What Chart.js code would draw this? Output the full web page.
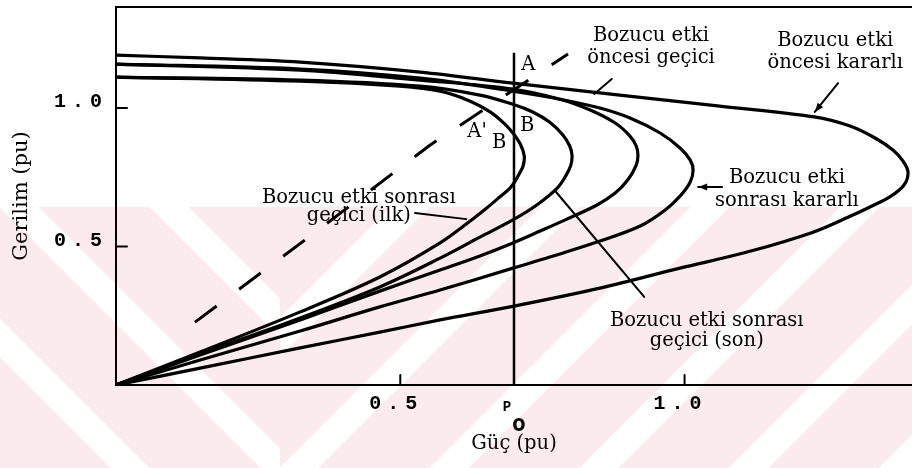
<!DOCTYPE html>
<html lang="tr">
<head>
<meta charset="utf-8">
<title>Gerilim – Güç eğrileri</title>
<script src="https://cdn.jsdelivr.net/npm/chart.js@4.4.1/dist/chart.umd.min.js"></script>
<style>
  html, body { margin: 0; padding: 0; background: #fff; overflow: hidden; }
  #wrap { position: relative; width: 912px; height: 468px; overflow: hidden; }
  .zemin { position: absolute; top: 207px; height: 261px; z-index: 0; }
  .zemin.sol { left: 0; width: 280px;
    background: repeating-linear-gradient(45deg, #fcebee 0 78px, #ffffff 78px 106px); }
  .zemin.sag { left: 280px; width: 632px;
    background: repeating-linear-gradient(135deg, #fcebee 0 78px, #ffffff 78px 106px); }
  canvas { display: block; position: relative; z-index: 1; }
</style>
</head>
<body>
<div id="wrap">
  <div class="zemin sol"></div>
  <div class="zemin sag"></div>
  <canvas id="pv" width="912" height="468"></canvas>
</div>
<script>
// P–V (burun) eğrileri: güç P (pu), gerilim V (pu)

// Bozucu etki öncesi kararlı
const oncesiKararliP = [0, 0.148, 0.324, 0.535, 0.698, 0.886, 1.062, 1.228, 1.291, 1.335, 1.367, 1.384, 1.393, 1.386, 1.361, 1.326, 1.296, 1.226, 1.110, 0.992, 0.851, 0.700, 0.570, 0.464, 0.324, 0.148, 0];
const oncesiKararliV = [1.191, 1.181, 1.166, 1.130, 1.090, 1.047, 1.007, 0.968, 0.935, 0.892, 0.848, 0.809, 0.769, 0.722, 0.679, 0.643, 0.614, 0.552, 0.480, 0.422, 0.350, 0.285, 0.235, 0.191, 0.134, 0.061, 0];

// Bozucu etki sonrası kararlı
const sonrasiKararliP = [0, 0.324, 0.535, 0.698, 0.781, 0.851, 0.904, 0.957, 0.992, 1.010, 1.015, 1.010, 0.992, 0.966, 0.922, 0.846, 0.763, 0.698, 0.570, 0.464, 0.324, 0.148, 0];
const sonrasiKararliV = [1.159, 1.141, 1.108, 1.061, 1.032, 1.000, 0.964, 0.910, 0.856, 0.812, 0.776, 0.733, 0.682, 0.632, 0.574, 0.516, 0.462, 0.422, 0.343, 0.282, 0.195, 0.090, 0];

// Bozucu etki öncesi geçici
const oncesiGeciciP = [0, 0.324, 0.535, 0.698, 0.781, 0.834, 0.878, 0.904, 0.915, 0.918, 0.915, 0.900, 0.878, 0.846, 0.793, 0.746, 0.698, 0.640, 0.570, 0.464, 0.324, 0.148, 0];
const oncesiGeciciV = [1.159, 1.137, 1.101, 1.069, 1.032, 0.993, 0.946, 0.899, 0.863, 0.830, 0.794, 0.740, 0.693, 0.650, 0.599, 0.556, 0.513, 0.466, 0.415, 0.339, 0.235, 0.108, 0];

// Bozucu etki sonrası geçici (son)
const sonGeciciP = [0, 0.324, 0.535, 0.640, 0.698, 0.733, 0.763, 0.786, 0.798, 0.802, 0.800, 0.791, 0.776, 0.740, 0.698, 0.640, 0.570, 0.464, 0.324, 0.148, 0];
const sonGeciciV = [1.112, 1.101, 1.079, 1.047, 1.014, 0.986, 0.949, 0.903, 0.863, 0.830, 0.794, 0.755, 0.711, 0.650, 0.596, 0.534, 0.458, 0.354, 0.242, 0.112, 0];

// Bozucu etki sonrası geçici (ilk)
const ilkGeciciP = [0, 0.324, 0.499, 0.570, 0.623, 0.658, 0.684, 0.698, 0.711, 0.718, 0.716, 0.709, 0.702, 0.693, 0.675, 0.652, 0.623, 0.570, 0.464, 0.324, 0.148, 0];
const ilkGeciciV = [1.112, 1.097, 1.079, 1.061, 1.025, 0.986, 0.942, 0.910, 0.870, 0.827, 0.791, 0.762, 0.736, 0.711, 0.679, 0.639, 0.592, 0.513, 0.390, 0.264, 0.119, 0];

// Yük karakteristiği (kesikli doğru)
const yukP = [0.139, 0.332, 0.552, 0.795];
const yukV = [0.227, 0.523, 0.866, 1.195];

// Çalışma gücü P0 ve dikey doğrunun uçları
const P0 = 0.7;
const p0HatV = [0, 1.2];

// Eksen işaretleri
const xTickValues = [0.5, P0, 1.0];
const xTickLabels = ['0.5', 'P', '1.0'];
const xTickSubs   = ['', 'o', ''];
const yTickValues = [0.5, 1.0];
const yTickLabels = ['0.5', '1.0'];

// Açıklama metinleri (konumlar veri biriminde: P, satır taban çizgileri V)
const notes = [
  { lines: ['Bozucu etki', 'öncesi geçici'],       p: 0.941, v: [1.242, 1.162] },
  { lines: ['Bozucu etki', 'öncesi kararlı'],      p: 1.265, v: [1.224, 1.144] },
  { lines: ['Bozucu etki', 'sonrası kararlı'],     p: 1.180, v: [0.729, 0.646] },
  { lines: ['Bozucu etki sonrası', 'geçici (ilk)'], p: 0.427, v: [0.657, 0.592] },
  { lines: ['Bozucu etki sonrası', 'geçici (son)'], p: 1.039, v: [0.213, 0.141] }
];
const leaders = [
  { from: [0.872, 1.105], to: [0.841, 1.051] },
  { from: [1.270, 1.090], to: [1.229, 0.986], arrow: true },
  { from: [1.066, 0.715], to: [1.024, 0.715], arrow: true },
  { from: [0.526, 0.621], to: [0.616, 0.599] },
  { from: [0.929, 0.318], to: [0.774, 0.697] }
];
const pointNames = [
  { t: 'A',  p: 0.725, v: 1.137 },
  { t: "A'", p: 0.635, v: 0.895 },
  { t: 'B',  p: 0.723, v: 0.917 },
  { t: 'B',  p: 0.674, v: 0.856 }
];

const toPoints = (ps, vs) => ps.map((p, i) => ({ x: p, y: vs[i] }));
const curve = (label, ps, vs, extra) => Object.assign({
  label,
  data: toPoints(ps, vs),
  showLine: true,
  borderColor: '#000',
  borderWidth: 3.2,
  borderCapStyle: 'round',
  borderJoinStyle: 'round',
  pointRadius: 0,
  tension: 0.35,
  fill: false
}, extra || {});

const SERIF = '"DejaVu Serif", serif';

// Açıklamalar, içe dönük çentikler ve eksen yazıları
const decor = {
  id: 'decor',
  afterDraw(chart) {
    const { ctx, chartArea: a, scales: { x, y } } = chart;
    const X = v => x.getPixelForValue(v);
    const Y = v => y.getPixelForValue(v);
    ctx.save();
    ctx.strokeStyle = '#000';
    ctx.fillStyle = '#000';
    ctx.lineCap = 'round';

    // içe dönük çentikler
    ctx.lineWidth = 2;
    yTickValues.forEach(v => {
      ctx.beginPath(); ctx.moveTo(a.left, Y(v)); ctx.lineTo(a.left + 11, Y(v)); ctx.stroke();
    });
    xTickValues.forEach(v => {
      if (v === P0) return;
      ctx.beginPath(); ctx.moveTo(X(v), a.bottom); ctx.lineTo(X(v), a.bottom - 10); ctx.stroke();
    });

    // çentik yazıları
    ctx.font = 'bold 20px "Liberation Mono", monospace';
    ctx.letterSpacing = '6px';
    ctx.textBaseline = 'alphabetic';
    ctx.textAlign = 'right';
    yTickValues.forEach((v, i) => ctx.fillText(yTickLabels[i], a.left - 8, Y(v) - 1));
    ctx.textAlign = 'center';
    xTickValues.forEach((v, i) => {
      if (xTickSubs[i]) return;
      ctx.fillText(xTickLabels[i], X(v) - 4, a.bottom + 24);
    });
    ctx.letterSpacing = '0px';
    xTickValues.forEach((v, i) => {
      if (!xTickSubs[i]) return;
      ctx.font = 'bold 14px "Liberation Mono", monospace';
      ctx.fillText(xTickLabels[i], X(v) - 7, a.bottom + 26);
      ctx.font = 'bold 23px "DejaVu Sans Mono", monospace';
      ctx.fillText(xTickSubs[i], X(v) + 5, a.bottom + 46);
    });

    // gösterge çizgileri
    ctx.lineWidth = 2;
    leaders.forEach(l => {
      const x1 = X(l.from[0]), y1 = Y(l.from[1]), x2 = X(l.to[0]), y2 = Y(l.to[1]);
      ctx.beginPath(); ctx.moveTo(x1, y1); ctx.lineTo(x2, y2); ctx.stroke();
      if (l.arrow) {
        const ang = Math.atan2(y2 - y1, x2 - x1), len = 9, w = 3.5;
        ctx.beginPath();
        ctx.moveTo(x2, y2);
        ctx.lineTo(x2 - len * Math.cos(ang) + w * Math.sin(ang), y2 - len * Math.sin(ang) - w * Math.cos(ang));
        ctx.lineTo(x2 - len * Math.cos(ang) - w * Math.sin(ang), y2 - len * Math.sin(ang) + w * Math.cos(ang));
        ctx.closePath(); ctx.fill();
      }
    });

    // açıklama metinleri
    ctx.font = '19.5px ' + SERIF;
    ctx.textAlign = 'center';
    ctx.textBaseline = 'alphabetic';
    notes.forEach(n => n.lines.forEach((t, i) => ctx.fillText(t, X(n.p), Y(n.v[i]))));
    pointNames.forEach(n => ctx.fillText(n.t, X(n.p), Y(n.v)));
    ctx.restore();
  }
};

new Chart(document.getElementById('pv'), {
  type: 'scatter',
  data: {
    datasets: [
      curve('Bozucu etki öncesi kararlı', oncesiKararliP, oncesiKararliV),
      curve('Bozucu etki sonrası kararlı', sonrasiKararliP, sonrasiKararliV),
      curve('Bozucu etki öncesi geçici', oncesiGeciciP, oncesiGeciciV),
      curve('Bozucu etki sonrası geçici (son)', sonGeciciP, sonGeciciV),
      curve('Bozucu etki sonrası geçici (ilk)', ilkGeciciP, ilkGeciciV),
      curve('Yük karakteristiği', yukP, yukV, { tension: 0, borderWidth: 3, borderDash: [27, 28], borderCapStyle: 'butt' }),
      curve('P0', [P0, P0], p0HatV, { tension: 0, borderWidth: 2.5, borderCapStyle: 'butt' })
    ]
  },
  options: {
    responsive: false,
    animation: false,
    devicePixelRatio: 1,
    events: [],
    layout: { padding: 0 },
    plugins: { legend: { display: false }, tooltip: { enabled: false }, title: { display: false } },
    scales: {
      x: {
        type: 'linear', position: 'bottom', min: 0, max: 1.4,
        afterBuildTicks: s => { s.ticks = xTickValues.map(v => ({ value: v })); },
        afterFit: s => { s.height = 83; },
        grid: { display: false, drawTicks: false },
        border: { display: true, color: '#000', width: 2 },
        ticks: { display: false },
        title: { display: true, text: 'Güç (pu)', color: '#000',
                 font: { family: SERIF, size: 19.5 }, padding: { top: 0, bottom: 12 } }
      },
      xTop: {
        type: 'linear', position: 'top', min: 0, max: 1.4,
        afterFit: s => { s.height = 7; },
        grid: { display: false, drawTicks: false },
        border: { display: true, color: '#000', width: 2 },
        ticks: { display: false }
      },
      y: {
        type: 'linear', position: 'left', min: 0, max: 1.365,
        afterBuildTicks: s => { s.ticks = yTickValues.map(v => ({ value: v })); },
        afterFit: s => { s.width = 116; },
        grid: { display: false, drawTicks: false },
        border: { display: true, color: '#000', width: 2 },
        ticks: { display: false },
        title: { display: true, text: 'Gerilim (pu)', color: '#000',
                 font: { family: SERIF, size: 21 }, padding: { top: 9, bottom: 0 } }
      }
    }
  },
  plugins: [decor]
});
</script>
</body>
</html>
